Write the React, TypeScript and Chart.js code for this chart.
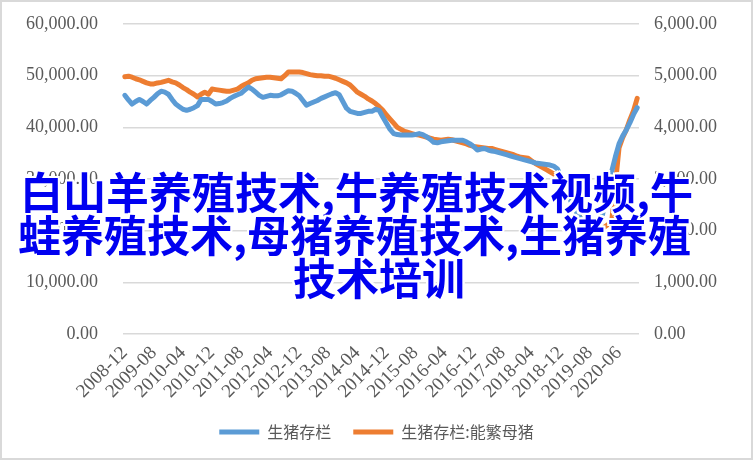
import React, { useEffect, useRef } from 'react';
import { Chart, registerables } from 'chart.js';

Chart.register(...registerables);

const categories = [
  '2008-12',
  '2009-01', '2009-02', '2009-03', '2009-04', '2009-05', '2009-06', '2009-07', '2009-08', '2009-09', '2009-10', '2009-11', '2009-12',
  '2010-01', '2010-02', '2010-03', '2010-04', '2010-05', '2010-06', '2010-07', '2010-08', '2010-09', '2010-10', '2010-11', '2010-12',
  '2011-01', '2011-02', '2011-03', '2011-04', '2011-05', '2011-06', '2011-07', '2011-08', '2011-09', '2011-10', '2011-11', '2011-12',
  '2012-01', '2012-02', '2012-03', '2012-04', '2012-05', '2012-06', '2012-07', '2012-08', '2012-09', '2012-10', '2012-11', '2012-12',
  '2013-01', '2013-02', '2013-03', '2013-04', '2013-05', '2013-06', '2013-07', '2013-08', '2013-09', '2013-10', '2013-11', '2013-12',
  '2014-01', '2014-02', '2014-03', '2014-04', '2014-05', '2014-06', '2014-07', '2014-08', '2014-09', '2014-10', '2014-11', '2014-12',
  '2015-01', '2015-02', '2015-03', '2015-04', '2015-05', '2015-06', '2015-07', '2015-08', '2015-09', '2015-10', '2015-11', '2015-12',
  '2016-01', '2016-02', '2016-03', '2016-04', '2016-05', '2016-06', '2016-07', '2016-08', '2016-09', '2016-10', '2016-11', '2016-12',
  '2017-01', '2017-02', '2017-03', '2017-04', '2017-05', '2017-06', '2017-07', '2017-08', '2017-09', '2017-10', '2017-11', '2017-12',
  '2018-01', '2018-02', '2018-03', '2018-04', '2018-05', '2018-06', '2018-07', '2018-08', '2018-09', '2018-10', '2018-11', '2018-12',
  '2019-01', '2019-02', '2019-03', '2019-04', '2019-05', '2019-06', '2019-07', '2019-08', '2019-09', '2019-10', '2019-11', '2019-12',
  '2020-03', '2020-04', '2020-05', '2020-06', '2020-07', '2020-08', '2020-09', '2020-10', '2020-11',
];

const tickLabels = [
  '2008-12', '2009-08', '2010-04', '2010-12', '2011-08', '2012-04', '2012-12', '2013-08', '2014-04',
  '2014-12', '2015-08', '2016-04', '2016-12', '2017-08', '2018-04', '2018-12', '2019-08', '2020-06',
];

const seriesNames = ['生猪存栏', '生猪存栏:能繁母猪'];

// 生猪存栏 (left axis)
const hogStock = [
  46200,
  45300, 44500, 45000, 45400, 45000, 44500, 45200, 45800, 46500, 47000, 46800, 46400,
  45400, 44500, 44000, 43500, 43300, 43500, 43800, 44200, 45400, 45400, 45400, 45000,
  44500, 44600, 44800, 45100, 45600, 46000, 46300, 46600, 47200, 47800, 47400, 46800,
  46200, 45800, 46000, 46200, 46100, 46100, 46300, 46700, 47100, 47000, 46600, 46100,
  45200, 44300, 44600, 44900, 45200, 45600, 45900, 46200, 46500, 46700, 46300, 45000,
  43700, 43100, 42900, 42700, 42700, 42900, 43100, 43100, 43500, 43300, 42000, 40800,
  39600, 38800, 38600, 38500, 38500, 38500, 38500, 38600, 38800, 38600, 38200, 37700,
  37100, 37000, 37200, 37300, 37400, 37500, 37500, 37500, 37500, 37200, 36800, 36300,
  35600, 35800, 35900, 35600, 35400, 35300, 35100, 34900, 34700, 34500, 34300, 34100,
  33900, 33700, 33500, 33300, 33100, 33000, 32900, 32800, 32700, 32500, 32000, 30500,
  28600, 27000, 25300, 23900, 22800, 21800, 21000, 20300, 19800, 19600, 21500, 25000,
  28500, 31500, 34300, 36800, 38300, 39500, 40900, 42500, 43800,
];

// 生猪存栏:能繁母猪 (right axis)
const sowStock = [
  4980,
  4990, 4970, 4940, 4920, 4890, 4860, 4840, 4840, 4860, 4870, 4890, 4910,
  4880, 4860, 4820, 4770, 4730, 4680, 4640, 4590, 4640, 4680, 4640, 4740,
  4730, 4720, 4710, 4700, 4700, 4720, 4740, 4790, 4830, 4860, 4910, 4940,
  4950, 4960, 4970, 4970, 4960, 4950, 4940, 5000, 5070, 5070, 5070, 5070,
  5060, 5040, 5020, 5010, 5000, 5000, 4990, 4990, 4970, 4950, 4920, 4890,
  4860, 4820, 4750, 4680, 4640, 4600, 4550, 4510, 4460, 4400, 4330, 4240,
  4160, 4080, 4000, 3960, 3920, 3900, 3880, 3860, 3850, 3830, 3810, 3790,
  3770, 3760, 3750, 3760, 3770, 3760, 3740, 3720, 3700, 3680, 3650, 3630,
  3620, 3610, 3600, 3590, 3590, 3570, 3550, 3530, 3510, 3490, 3470, 3440,
  3420, 3410, 3400, 3350, 3300, 3260, 3220, 3180, 3140, 3100, 3070, 3000,
  2900, 2800, 2650, 2480, 2300, 2120, 1990, 1940, 1950, 1960, 2020, 2070,
  2120, 2180, 2900, 3600, 3800, 3950, 4150, 4320, 4560,
];

const watermarkLines = [
  '白山羊养殖技术,牛养殖技术视频,牛',
  '蛙养殖技术,母猪养殖技术,生猪养殖',
  '技术培训',
];

const fmt = (v: number | string) =>
  Number(v).toLocaleString('en-US', { minimumFractionDigits: 2, maximumFractionDigits: 2 });

const TICK_COLOR = '#595959';
const TICK_FONT = { family: "'Liberation Serif', serif", size: 18 };
const X_FONT = { family: "'Liberation Serif', serif", size: 19 };

export default function App() {
  const canvasRef = useRef<HTMLCanvasElement | null>(null);

  useEffect(() => {
    const canvas = canvasRef.current;
    if (!canvas) return;
    const chart = new Chart(canvas, {
      type: 'line',
      data: {
        labels: categories,
        datasets: [
          {
            label: seriesNames[0],
            data: hogStock,
            yAxisID: 'y',
            borderColor: '#5B9BD5',
            backgroundColor: '#5B9BD5',
            borderWidth: 5,
            pointRadius: 0,
            tension: 0,
            borderCapStyle: 'round',
            borderJoinStyle: 'round',
          },
          {
            label: seriesNames[1],
            data: sowStock,
            yAxisID: 'y1',
            borderColor: '#ED7D31',
            backgroundColor: '#ED7D31',
            borderWidth: 5,
            pointRadius: 0,
            tension: 0,
            borderCapStyle: 'round',
            borderJoinStyle: 'round',
          },
        ],
      },
      options: {
        responsive: false,
        animation: false,
        layout: { padding: { top: 24, bottom: 10, left: 0, right: 0 } },
        plugins: {
          legend: {
            position: 'bottom',
            labels: {
              usePointStyle: true,
              pointStyle: 'line',
              pointStyleWidth: 40,
              padding: 22,
              color: TICK_COLOR,
              font: { family: "'Noto Sans CJK SC', sans-serif", size: 16 },
            },
          },
          tooltip: { enabled: false },
        },
        scales: {
          x: {
            offset: true,
            grid: { display: false, drawTicks: false },
            border: { display: false },
            ticks: {
              autoSkip: false,
              minRotation: 45,
              maxRotation: 45,
              padding: 8,
              color: TICK_COLOR,
              font: X_FONT,
              callback: function (_v: any, i: number) {
                const l = categories[i];
                return tickLabels.includes(l) ? l : null;
              },
            },
            afterFit: (s: any) => {
              s.height = 68;
            },
          },
          y: {
            position: 'left',
            min: 0,
            max: 60000,
            ticks: { stepSize: 10000, padding: 25, color: TICK_COLOR, font: TICK_FONT, callback: (v: any) => fmt(v) },
            grid: { color: '#d9d9d9', lineWidth: 1.5, drawTicks: false },
            border: { display: false },
            afterFit: (s: any) => {
              s.width = 123;
              s.paddingTop = 10;
              s.paddingBottom = 10;
            },
          },
          y1: {
            position: 'right',
            min: 0,
            max: 6000,
            ticks: { stepSize: 1000, padding: 15, color: TICK_COLOR, font: TICK_FONT, callback: (v: any) => fmt(v) },
            grid: { drawOnChartArea: false, drawTicks: false },
            border: { display: false },
            afterFit: (s: any) => {
              s.width = 114;
              s.paddingTop = 10;
              s.paddingBottom = 10;
            },
          },
        },
      },
    } as any);
    return () => chart.destroy();
  }, []);

  const wmBase: React.CSSProperties = {
    position: 'absolute',
    margin: 0,
    whiteSpace: 'nowrap',
    fontFamily: "'Noto Sans CJK SC', sans-serif",
    fontWeight: 700,
    fontSize: 43,
    lineHeight: '43px',
    color: '#0000f0',
    textShadow:
      '2px 0 0 #fff, -2px 0 0 #fff, 0 2px 0 #fff, 0 -2px 0 #fff, 2px 2px 0 #fff, -2px -2px 0 #fff, 2px -2px 0 #fff, -2px 2px 0 #fff',
  };

  return (
    <div style={{ position: 'absolute', left: 0, top: 0, width: 753, height: 460, background: '#fff' }}>
      <canvas ref={canvasRef} width={753} height={460} style={{ position: 'absolute', left: 0, top: 0 }} />
      <div
        style={{
          position: 'absolute',
          left: 0,
          top: 0,
          width: 753,
          height: 460,
          boxSizing: 'border-box',
          border: '2px solid #d9d9d9',
          pointerEvents: 'none',
        }}
      />
      <div style={{ ...wmBase, left: 20, top: 169 }}>{watermarkLines[0]}</div>
      <div style={{ ...wmBase, left: 18, top: 212 }}>{watermarkLines[1]}</div>
      <div style={{ ...wmBase, left: 293, top: 255 }}>{watermarkLines[2]}</div>
    </div>
  );
}
